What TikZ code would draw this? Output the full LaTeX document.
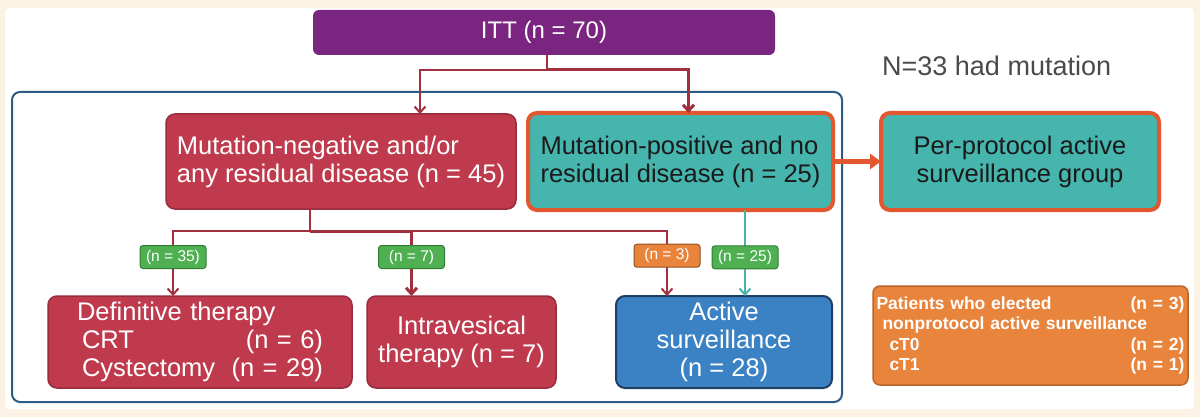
\documentclass[tikz,border=0pt]{standalone}
\usepackage{fontspec}
\setmainfont{Liberation Sans}
\usetikzlibrary{arrows.meta, positioning}
\definecolor{cream}{HTML}{FBF2E3}
\definecolor{ittpurple}{HTML}{7A2680}
\definecolor{redbox}{HTML}{C03A4D}
\definecolor{redline}{HTML}{962C3C}
\definecolor{redconn}{HTML}{A3303F}
\definecolor{tealbox}{HTML}{45B5AE}
\definecolor{orangeline}{HTML}{E2572D}
\definecolor{bluebox}{HTML}{3B82C4}
\definecolor{navy}{HTML}{1E3F63}
\definecolor{framecol}{HTML}{2C5C84}
\definecolor{notebox}{HTML}{E8843C}
\definecolor{noteline}{HTML}{B9652B}
\definecolor{greentag}{HTML}{4FB052}
\definecolor{greenline}{HTML}{2E7D32}
\definecolor{textdark}{HTML}{1A1A1A}
\definecolor{graytext}{HTML}{4A4A4A}
\newcommand{\boxfont}{\fontsize{25.5}{28}\selectfont}
\newcommand{\tagfont}{\fontsize{15.5}{17}\selectfont}
\newcommand{\notefont}{\fontsize{17.5}{20.5}\selectfont\bfseries}
\tikzset{%
  >={Straight Barb[length=6pt,width=11pt]},
  % Specifications for style of nodes:
        base/.style = {rectangle, rounded corners=9pt, outer sep=0pt,
                           inner sep=0pt, align=center, font=\boxfont},
        negbox/.style = {base, draw=redline, fill=redbox, text=white,
                           line width=1.5pt},
        posbox/.style = {base, draw=orangeline, fill=tealbox,
                           text=textdark, line width=4pt},
        asbox/.style = {base, draw=navy, fill=bluebox, text=white,
                           line width=2pt},
        tag/.style = {rectangle, rounded corners=3pt, minimum width=66pt,
                           minimum height=23pt, inner sep=2pt, text=white,
                           font=\tagfont, line width=1pt},
        greentag/.style = {tag, fill=greentag, draw=greenline},
        orangetag/.style = {tag, fill=notebox, draw=noteline!80!black},
        line/.style = {draw=redconn, line width=2pt},
        tealline/.style = {draw=tealbox, line width=2pt},
        bigarrow/.style = {draw=orangeline, line width=5pt,
                           -{Triangle[length=11pt,width=15pt]}}
}
\begin{document}
\begin{tikzpicture}[x=1pt, y=-1pt]
  \useasboundingbox (0,0) rectangle (1200,417);
  \fill[cream] (0,0) rectangle (1200,417);
  \fill[white, rounded corners=4pt] (5,8) rectangle (1194,409);
  \draw[framecol, line width=2pt, rounded corners=8pt] (12,92) rectangle (842,402);

  % Specification of nodes (position, etc.)
    \node (itt) [base, fill=ittpurple, text=white, rounded corners=6pt,
                 minimum width=462pt, minimum height=45pt,
                 font=\fontsize{24}{28}\selectfont] at (544,32.5) {ITT (n = 70)};
    \node (nmut) [anchor=west, inner sep=0pt, text=graytext,
                  font=\fontsize{27}{30}\selectfont] at (882,66) {N=33 had mutation};
    \node (neg) [negbox, align=left, minimum width=350pt, minimum height=95pt]
                 at (341,161.5) {Mutation-negative and/or\\any residual disease (n = 45)};
    \node (pos) [posbox, align=left, minimum width=305pt, minimum height=97pt,
                 right=12pt of neg] {Mutation-positive and no\\residual disease (n = 25)};
    \node (perprot) [posbox, minimum width=278pt, minimum height=97pt,
                 right=48pt of pos] {Per-protocol active\\surveillance group};
    \node (defn) [negbox, text width=246pt, align=left, minimum width=304pt,
                 minimum height=92pt] at (200,342)
                 {Definitive therapy\\\hspace*{5pt}CRT\hfill(n = 6)\\
                  \hspace*{5pt}Cystectomy\hfill(n = 29)};
    \node (intrav) [negbox, minimum width=189pt, minimum height=92pt,
                 right=15pt of defn] {Intravesical\\therapy (n = 7)};
    \node (active) [asbox, minimum width=216pt, minimum height=92pt]
                 at (724,342) {Active\\surveillance\\(n = 28)};
    \node (note) [base, fill=notebox, draw=noteline, line width=1.5pt,
                 rounded corners=7pt, text=white, text width=308pt, align=left,
                 minimum width=315pt, minimum height=99pt, font=\notefont]
                 at (1030.5,335.5)
                 {Patients who elected\hfill(n = 3)\\
                  \hspace*{6pt}nonprotocol active surveillance\\
                  \hspace*{13pt}cT0\hfill(n = 2)\\
                  \hspace*{13pt}cT1\hfill(n = 1)};

  % Specification of lines between nodes specified above
  \draw[line] ([xshift=3pt]itt.south) -- ++(0,15) coordinate (ittsplit);
  \draw[line, ->] (ittsplit) -| ([xshift=79pt]neg.north);
  \draw[line, line width=3pt, ->] (ittsplit) -| ([xshift=8pt]pos.north);
  \draw[bigarrow] (pos.east) -- (perprot.west);

  \draw[line] ([xshift=-31pt]neg.south) -- ++(0,22) coordinate (negsplit);
  \draw[line, ->] (negsplit) -| node[greentag, pos=0.7]{(n = 35)}
                                ([xshift=-27pt]defn.north);
  \draw[line, line width=3pt, ->] (negsplit) -| node[greentag, pos=0.7]{(n = 7)}
                                ([xshift=-50pt]intrav.north);
  \draw[line, ->] (negsplit) -| node[orangetag, pos=0.69]{(n = 3)}
                                ([xshift=-57pt]active.north);
  \draw[tealline, ->] ([xshift=64.5pt]pos.south) -- node[greentag, pos=0.55]{(n = 25)}
                                ([xshift=21pt]active.north);
\end{tikzpicture}
\end{document}
